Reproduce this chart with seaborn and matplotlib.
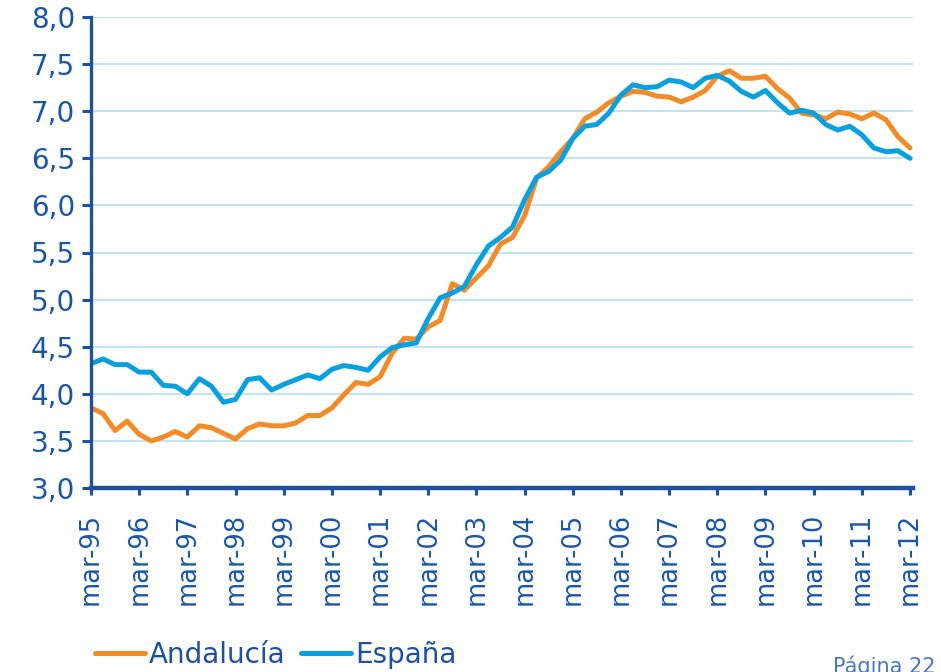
import pandas as pd
import matplotlib
matplotlib.use('Agg')
import matplotlib.pyplot as plt
import seaborn as sns

# datos trimestrales: mar-95 ... mar-12
andalucia = [3.85, 3.79, 3.61, 3.71, 3.57, 3.50, 3.54, 3.60, 3.54, 3.66,
             3.64, 3.58, 3.52, 3.63, 3.68, 3.66, 3.66, 3.69, 3.77, 3.77,
             3.85, 3.99, 4.12, 4.10, 4.18, 4.43, 4.59, 4.58, 4.71, 4.78,
             5.17, 5.10, 5.23, 5.36, 5.59, 5.66, 5.89, 6.29, 6.41, 6.57,
             6.71, 6.92, 6.99, 7.09, 7.16, 7.21, 7.20, 7.16, 7.15, 7.10,
             7.15, 7.22, 7.37, 7.43, 7.35, 7.35, 7.37, 7.24, 7.14, 6.98,
             6.96, 6.92, 6.99, 6.97, 6.92, 6.98, 6.91, 6.73, 6.61]
espana = [4.32, 4.37, 4.31, 4.31, 4.23, 4.23, 4.09, 4.08, 4.00, 4.16,
          4.08, 3.91, 3.94, 4.15, 4.17, 4.04, 4.10, 4.15, 4.20, 4.16,
          4.26, 4.30, 4.28, 4.25, 4.39, 4.49, 4.52, 4.54, 4.80, 5.02,
          5.07, 5.14, 5.37, 5.57, 5.66, 5.77, 6.06, 6.30, 6.36, 6.48,
          6.71, 6.84, 6.86, 6.98, 7.17, 7.28, 7.25, 7.26, 7.33, 7.31,
          7.25, 7.35, 7.38, 7.32, 7.21, 7.15, 7.22, 7.09, 6.98, 7.01,
          6.98, 6.86, 6.80, 6.84, 6.75, 6.61, 6.57, 6.58, 6.50]
years = ['95', '96', '97', '98', '99', '00', '01', '02', '03',
         '04', '05', '06', '07', '08', '09', '10', '11', '12']
tick_labels = ['mar-' + y for y in years]

azul_oscuro = '#1f50a0'
texto = '#1a56a8'
colores = {'Andalucía': '#f28c28', 'España': '#0aa0e0'}

df = pd.DataFrame({
    'trimestre': list(range(len(andalucia))) * 2,
    'valor': andalucia + espana,
    'serie': ['Andalucía'] * len(andalucia) + ['España'] * len(espana),
})

sns.set_style('white')
plt.rcParams['font.family'] = ['DejaVu Sans']

fig = plt.figure(figsize=(9.41, 6.72), dpi=100)
ax = fig.add_axes([91 / 941, 1 - 488 / 672, 822 / 941, 471 / 672])

sns.lineplot(data=df, x='trimestre', y='valor', hue='serie', palette=colores,
             linewidth=3.6, ax=ax, legend=False)

ax.set_xlim(0, 68.25)
ax.set_ylim(3.0, 8.0)
ax.set_yticks([3.0 + 0.5 * k for k in range(11)])
ax.set_yticklabels([f'{3.0 + 0.5 * k:.1f}'.replace('.', ',') for k in range(11)])
ax.set_xticks(range(0, 69, 4))
ax.set_xticklabels(tick_labels, rotation=90)
ax.set_xlabel('')
ax.set_ylabel('')

ax.grid(axis='y', color='#bfe3f5', linewidth=1.4)
ax.set_axisbelow(True)
for s in ['top', 'right']:
    ax.spines[s].set_visible(False)
ax.spines['left'].set_color(azul_oscuro)
ax.spines['left'].set_linewidth(2.4)
ax.spines['bottom'].set_color(azul_oscuro)
ax.spines['bottom'].set_linewidth(3.2)

ax.tick_params(axis='y', length=6.5, width=2.2, color=azul_oscuro,
               labelcolor=texto, labelsize=20, pad=5, left=True)
ax.tick_params(axis='x', length=5, width=2.2, color=azul_oscuro,
               labelcolor=texto, labelsize=18.5, pad=13, bottom=True)

# leyenda
handles = [plt.Line2D([], [], color=colores[k], linewidth=3.6) for k in colores]
fig.legend(handles, list(colores.keys()), loc='center left',
           bbox_to_anchor=(95 / 941, 1 - 655 / 672), frameon=False,
           fontsize=20, labelcolor=azul_oscuro, ncol=2, handlelength=1.8,
           handletextpad=0.15, columnspacing=0.55, borderpad=0,
           borderaxespad=0)

fig.text(833 / 941, 1 - 673 / 672, 'Página 22', fontsize=15,
         color='#4a78c0', va='baseline', ha='left')

fig.savefig('out.png', dpi=100)
